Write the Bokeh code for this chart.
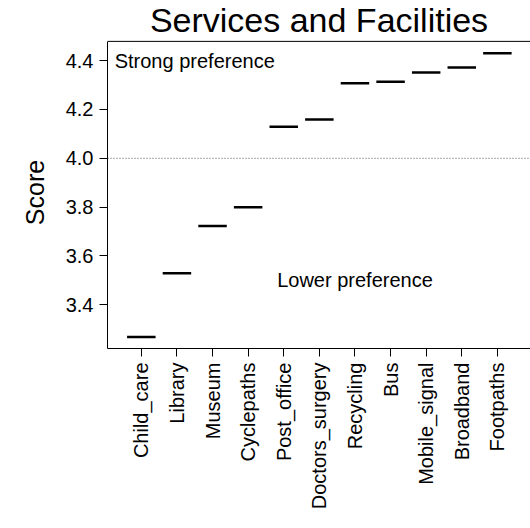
import math

from bokeh.plotting import figure
from bokeh.models import Range1d, FixedTicker, Span, ColumnDataSource
from bokeh.core.properties import value
from bokeh.embed import file_html
from bokeh.resources import INLINE

# Mean preference score per service, in ascending order
categories = ["Child_care", "Library", "Museum", "Cyclepaths", "Post_office",
              "Doctors_surgery", "Recycling", "Bus", "Mobile_signal",
              "Broadband", "Footpaths"]
scores = [3.268, 3.529, 3.723, 3.800, 4.129, 4.159, 4.308, 4.314, 4.352,
          4.372, 4.430]
y_ticks = [3.4, 3.6, 3.8, 4.0, 4.2, 4.4]
threshold = 4.0

FONT = "Liberation Sans"

positions = list(range(1, len(categories) + 1))
half_width = 0.4

source = ColumnDataSource(dict(
    x0=[i - half_width for i in positions],
    x1=[i + half_width for i in positions],
    y=scores,
))

x_start, x_end = 0.05, 11.93
y_bottom, box_top = 3.221, 4.479
y_end = box_top + 0.02   # headroom so the box edge sits clear of the title panel

p = figure(
    width=530, height=528,
    x_range=Range1d(x_start, x_end),
    y_range=Range1d(y_bottom, y_end),
    output_backend="svg", toolbar_location=None,
    min_border_left=107, min_border_right=0,
    min_border_top=36, min_border_bottom=180,
    title="Services and Facilities",
)

p.title.text_font = FONT
p.title.text_font_size = "34px"
p.title.text_font_style = "normal"
p.title.align = "center"
p.title.text_color = "black"
try:
    p.title.standoff = -4
except ValueError:
    p.title.standoff = 0

p.outline_line_color = None
p.xgrid.visible = False
p.ygrid.visible = False

xax = p.below[0]
yax = p.left[0]

for ax in (xax, yax):
    ax.axis_line_color = "black"
    ax.axis_line_width = 1
    ax.major_tick_line_color = "black"
    ax.major_tick_out = 8
    ax.major_tick_in = 0
    ax.minor_tick_line_color = None
    ax.major_label_text_font = FONT
    ax.major_label_text_font_size = "20px"
    ax.major_label_text_color = "black"

xax.ticker = FixedTicker(ticks=positions)
xax.major_label_overrides = {i: name for i, name in zip(positions, categories)}
xax.major_label_orientation = math.pi / 2
xax.major_label_standoff = 6

yax.bounds = (y_bottom, box_top)
yax.ticker = FixedTicker(ticks=y_ticks)
yax.major_label_overrides = {t: f"{t:.1f}" for t in y_ticks}
yax.major_label_standoff = 6
yax.axis_label = "Score"
yax.axis_label_text_font = FONT
yax.axis_label_text_font_size = "25px"
yax.axis_label_text_font_style = "normal"
yax.axis_label_text_color = "black"
yax.axis_label_standoff = 14

# top edge of the plot box
p.add_layout(Span(location=box_top, dimension="width",
                  line_color="black", line_width=1))

# reference line between strong and lower preference
p.add_layout(Span(location=threshold, dimension="width", line_color="#555555",
                  line_width=1, line_dash="1 2"))

p.segment(x0="x0", x1="x1", y0="y", y1="y", source=source,
          line_color="black", line_width=2.5)

p.text(x=[2.5], y=[4.4], text=["Strong preference"], text_align="center",
       text_baseline="middle", text_font=value(FONT), text_font_size="20px",
       text_color="black")
p.text(x=[7.0], y=[3.5], text=["Lower preference"], text_align="center",
       text_baseline="middle", text_font=value(FONT), text_font_size="20px",
       text_color="black")

open("out.html", "w").write(file_html(p, INLINE))
